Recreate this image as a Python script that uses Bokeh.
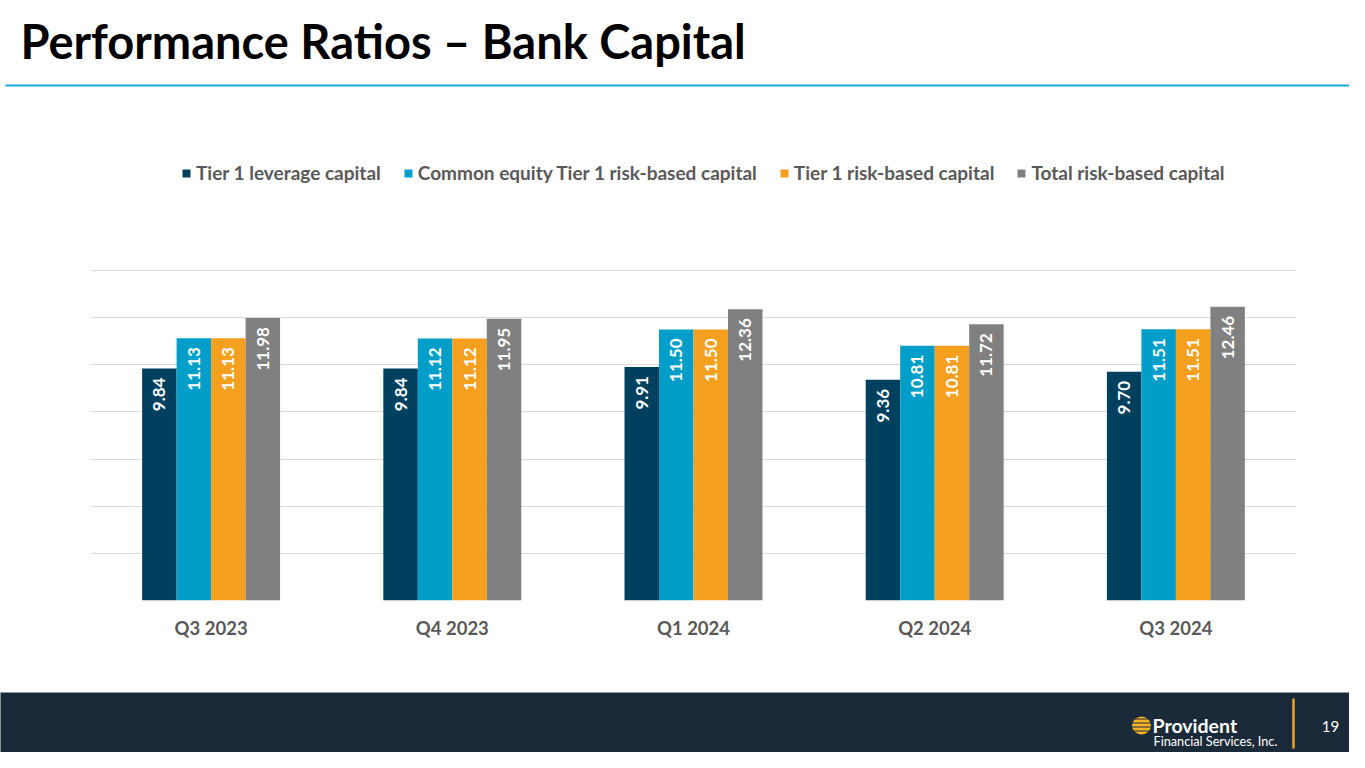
import math
from bokeh.plotting import figure
from bokeh.models import (ColumnDataSource, Legend, LegendItem, FixedTicker,
                          Range1d, FactorRange)
from bokeh.transform import dodge
from bokeh.core.properties import value
from bokeh.embed import file_html
from bokeh.resources import INLINE

# ---------------- data ----------------
quarters = ["Q3 2023", "Q4 2023", "Q1 2024", "Q2 2024", "Q3 2024"]
tier1_leverage = [9.84, 9.84, 9.91, 9.36, 9.70]
cet1_risk_based = [11.13, 11.12, 11.50, 10.81, 11.51]
tier1_risk_based = [11.13, 11.12, 11.50, 10.81, 11.51]
total_risk_based = [11.98, 11.95, 12.36, 11.72, 12.46]
series_names = ["Tier 1 leverage capital", "Common equity Tier 1 risk-based capital",
                "Tier 1 risk-based capital", "Total risk-based capital"]
grid_ticks = [0, 2, 4, 6, 8, 10, 12, 14]
title_text = "Performance Ratios \u2013 Bank Capital"
page_number = "19"

# ---------------- style ----------------
W = 1349
FONT = "Lato"
colors = ["#00405F", "#009EC8", "#F59F1E", "#808080"]
offsets = [-0.2145, -0.0715, 0.0715, 0.2145]
bar_w = 0.143
footer_bg = "#1B2A38"


def blank(height, y0, y1, bg="white"):
    f = figure(width=W, height=height, x_range=Range1d(0, W), y_range=Range1d(y1, y0),
               output_backend="svg", toolbar_location=None, min_border=0)
    f.axis.visible = False
    f.grid.visible = False
    f.outline_line_color = None
    f.background_fill_color = bg
    f.border_fill_color = bg
    return f


# ---------------- header ----------------
header = blank(100, 0, 100)
header.text(x=[20], y=[40], text=[title_text], text_font=value(FONT), text_font_style="bold",
            text_font_size="47px", text_color="#000000", text_baseline="middle",
            text_align="left")
header.segment(x0=[5], y0=[85], x1=[W], y1=[85], line_color="#1FA8DB", line_width=2)

# ---------------- chart ----------------
px_per_unit = 330 / 14.0
frame_h = 460
y_end = frame_h / px_per_unit

p = figure(width=W, height=592, x_range=FactorRange(*quarters, range_padding=0),
           y_range=Range1d(0, y_end), output_backend="svg", toolbar_location=None,
           min_border_left=90, min_border_right=53, min_border_top=40, min_border_bottom=92)
p.outline_line_color = None
p.yaxis.visible = False
p.xgrid.visible = False
p.ygrid.ticker = FixedTicker(ticks=grid_ticks)
p.ygrid.grid_line_color = "#D9D9D9"
p.ygrid.grid_line_width = 1
p.xaxis.axis_line_color = None
p.xaxis.major_tick_line_color = None
p.xaxis.minor_tick_line_color = None
p.xaxis.major_label_text_font = FONT
p.xaxis.major_label_text_font_style = "bold"
p.xaxis.major_label_text_font_size = "18.5px"
p.xaxis.major_label_text_color = "#595959"
p.xaxis.major_label_standoff = 10

items = []
all_series = [tier1_leverage, cet1_risk_based, tier1_risk_based, total_risk_based]
for i, vals in enumerate(all_series):
    src = ColumnDataSource(dict(q=quarters, v=vals, lab=[f"{v:.2f}" for v in vals]))
    r = p.vbar(x=dodge("q", offsets[i], range=p.x_range), top="v", width=bar_w,
               source=src, fill_color=colors[i], line_color=None)
    p.text(x=dodge("q", offsets[i], range=p.x_range), y="v", text="lab", source=src,
           angle=math.pi / 2, text_align="right", text_baseline="middle", y_offset=9,
           text_color="white", text_font=value(FONT), text_font_style="bold",
           text_font_size="17px")
    items.append(LegendItem(label=series_names[i], renderers=[r]))

legend = Legend(items=items, orientation="horizontal", location=(91, 416),
                glyph_width=10, glyph_height=10, label_standoff=5, spacing=22,
                padding=0, margin=0, border_line_color=None, background_fill_alpha=0,
                label_text_font=FONT, label_text_font_style="bold",
                label_text_font_size="19px", label_text_color="#595959")
p.add_layout(legend)

# ---------------- footer ----------------
footer = blank(60, 692, 752, footer_bg)
footer.ellipse(x=[1141], y=[725], width=[19], height=[18], fill_color="#F5B227", line_color=None)
footer.segment(x0=[1130] * 4, y0=[718.5, 722.5, 726.5, 730.5], x1=[1152] * 4,
               y1=[718.5, 722.5, 726.5, 730.5], line_color=footer_bg, line_width=1.2)
footer.text(x=[1152], y=[725], text=["Provident"], text_font=value(FONT),
            text_font_style="bold", text_font_size="19.5px", text_color="white",
            text_baseline="middle", text_align="left")
footer.text(x=[1153], y=[740], text=["Financial Services, Inc."], text_font=value(FONT),
            text_font_size="12.7px", text_color="white", text_baseline="middle",
            text_align="left")
footer.segment(x0=[1293], y0=[698], x1=[1293], y1=[748], line_color="#F0A22E", line_width=2.5)
footer.text(x=[1330], y=[726], text=[page_number], text_font=value(FONT),
            text_font_size="15px", text_color="white", text_baseline="middle",
            text_align="center")

open("out.html", "w").write(file_html([header, p, footer], INLINE))
